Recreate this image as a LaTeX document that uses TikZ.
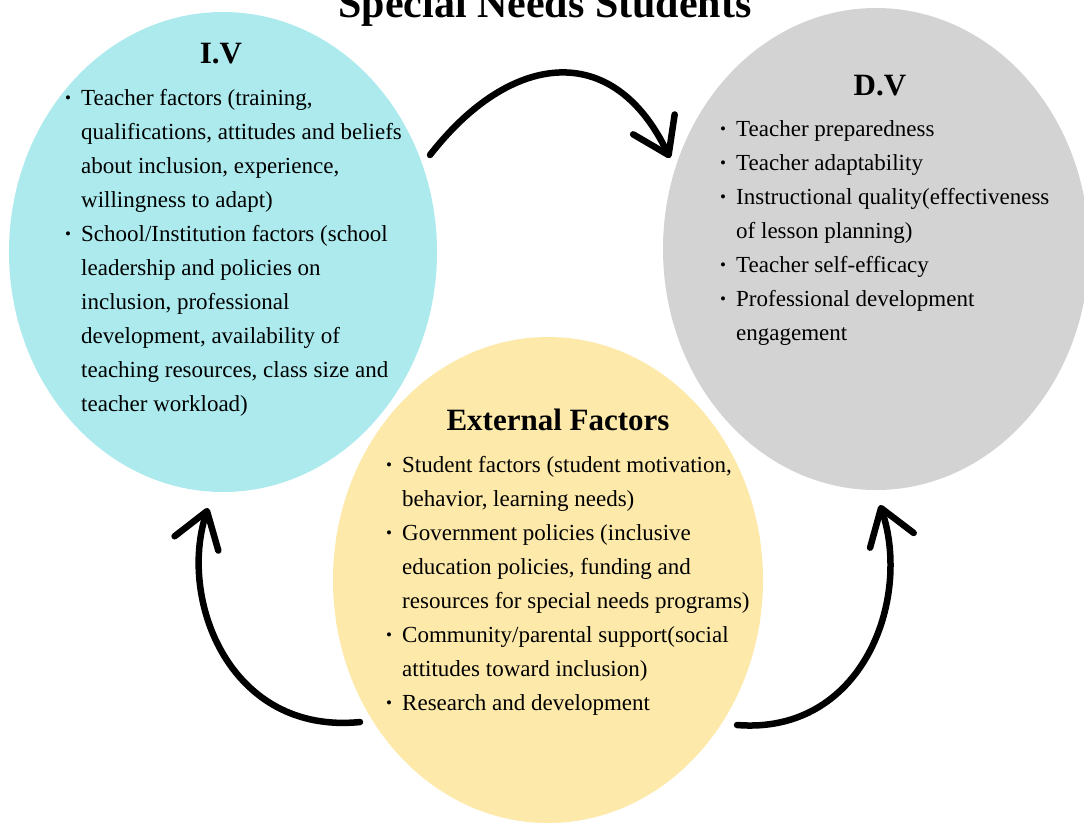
\documentclass[tikz,border=0pt]{standalone}
\usepackage{fontspec}
\setmainfont{Liberation Serif}
\usetikzlibrary{shapes.geometric,arrows.meta}

\definecolor{ivcyan}{RGB}{172,234,238}
\definecolor{dvgray}{RGB}{211,211,211}
\definecolor{extyellow}{RGB}{253,233,170}

% small bullet in a fixed-width box, and the matching hanging indent
\newcommand{\blt}{\makebox[16pt][l]{\raisebox{0.12ex}{\fontsize{17}{17}\selectfont\textbullet}}}
\newcommand{\cnt}{\hspace*{16pt}}

\tikzset{
  blob/.style={ellipse, draw=none, inner sep=0pt},
  % multi-line nodes: the base anchor sits on the last line's baseline
  listtext/.style={font=\fontsize{23}{34}\selectfont, align=left, inner sep=0pt, anchor=base west},
  heading/.style={font=\fontsize{31}{31}\selectfont\bfseries, inner sep=0pt, anchor=base},
  titletext/.style={font=\fontsize{42}{42}\selectfont\bfseries, inner sep=0pt, anchor=base},
  arrowline/.style={line width=6.5pt, line cap=round, draw=black,
    -{Straight Barb[length=34pt,width=46pt,round]}},
}

\begin{document}
\begin{tikzpicture}[x=1pt, y=-1pt]
\useasboundingbox (0,0) rectangle (1084,823);
\clip (0,0) rectangle (1084,823);
\fill[white] (0,0) rectangle (1084,823);

% the three variable groups
\node[blob, fill=ivcyan, minimum width=428pt, minimum height=480pt] (iv) at (223,252) {};
\node[blob, fill=dvgray, minimum width=426pt, minimum height=482pt] (dv) at (876,249) {};
\node[blob, fill=extyellow, minimum width=430pt, minimum height=486pt] (ext) at (548,580) {};

% title
\node[titletext] (title) at (545,17) {Special Needs Students};

% headings
\node[heading] (ivhead) at (221,63) {I.V};
\node[heading] (dvhead) at (880,95) {D.V};
\node[heading] (exthead) at (558,430) {External Factors};

% lists
\node[listtext] (ivlist) at (65,411) {%
\blt Teacher factors (training,\\
\cnt qualifications, attitudes and beliefs\\
\cnt about inclusion, experience,\\
\cnt willingness to adapt)\\
\blt School/Institution factors (school\\
\cnt leadership and policies on\\
\cnt inclusion, professional\\
\cnt development, availability of\\
\cnt teaching resources, class size and\\
\cnt teacher workload)};

\node[listtext] (dvlist) at (720,340) {%
\blt Teacher preparedness\\
\blt Teacher adaptability\\
\blt Instructional quality(effectiveness\\
\cnt of lesson planning)\\
\blt Teacher self-efficacy\\
\blt Professional development\\
\cnt engagement};

\node[listtext] (extlist) at (386,710) {%
\blt Student factors (student motivation,\\
\cnt behavior, learning needs)\\
\blt Government policies (inclusive\\
\cnt education policies, funding and\\
\cnt resources for special needs programs)\\
\blt Community/parental support(social\\
\cnt attitudes toward inclusion)\\
\blt Research and development};

% arrow ends beside the groups
\coordinate (ivout) at (430,155);
\coordinate (dvin) at (670,158);
\coordinate (extoutl) at (360,722);
\coordinate (ivin) at (208,508);
\coordinate (extoutr) at (737,725);
\coordinate (dvin2) at (880,505);

% arrows
\draw[arrowline] (ivout) .. controls (510,52) and (613,39) .. (dvin);
\draw[arrowline] (extoutl) .. controls (230,735) and (178,600) .. (ivin);
\draw[arrowline] (extoutr) .. controls (862,735) and (912,600) .. (dvin2);
\end{tikzpicture}
\end{document}
